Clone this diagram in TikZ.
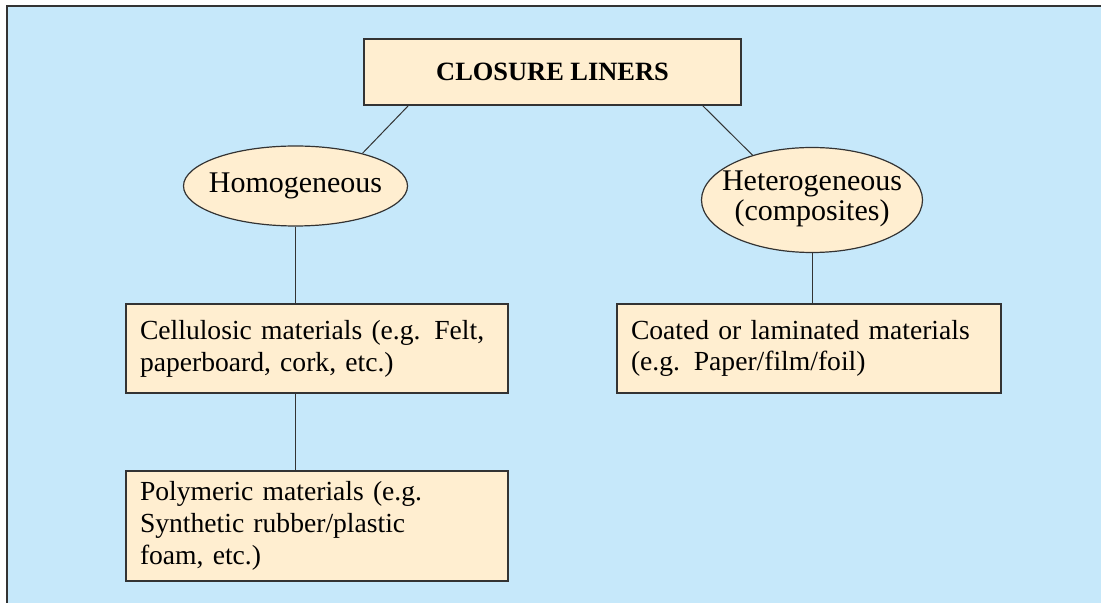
\documentclass[tikz,border=0pt]{standalone}
\usepackage{fontspec}
\setmainfont{Liberation Serif}
\usepackage{tikz}
\usetikzlibrary{shapes.geometric}
\definecolor{panelblue}{HTML}{C6E8FA}
\definecolor{boxcream}{HTML}{FFEED0}
\definecolor{linegray}{HTML}{333333}

\begin{document}
\begin{tikzpicture}[x=0.5pt,y=-0.5pt,
    font=\fontsize{15}{15}\selectfont,
    box/.style={draw=linegray, fill=boxcream, line width=0.6pt, inner sep=0pt},
    textbox/.style={box, font=\fontsize{13.8}{15.9}\selectfont, inner xsep=7pt, text width=177pt, align=left},
    oval/.style={ellipse, draw=linegray, fill=boxcream, line width=0.6pt, inner sep=0pt},
    link/.style={draw=linegray, line width=0.5pt}]
    \useasboundingbox (0,0) rectangle (1101,603);
    \draw[linegray, line width=1pt, fill=panelblue] (7,620) -- (7,6) -- (1120,6) -- (1120,620);

    \node[box, font=\fontsize{13.2}{15}\selectfont\bfseries, minimum width=188.5pt, minimum height=33pt] (title) at (552.5,72) {CLOSURE LINERS};
    \node[oval, minimum width=112pt, minimum height=40pt] (homo) at (295.5,186) {\makebox[0pt]{Homogeneous}};
    \node[oval, minimum width=110.5pt, minimum height=52.5pt] (hetero) at (812,200)
      {\makebox[0pt]{\begin{tabular}{@{}c@{}}Heterogeneous\\(composites)\end{tabular}}};
    \node[textbox, minimum height=44.5pt] (cell) at (317,348.5) {Cellulosic materials (e.g. Felt,\\ paperboard, cork, etc.)};
    \node[textbox, minimum height=55pt] (poly) at (317,526) {Polymeric materials (e.g.\\ Synthetic rubber/plastic\\ foam, etc.)};
    \node[textbox, text width=178pt, minimum height=44.5pt] (coat) at (809,348.5) {Coated or laminated materials\\ (e.g. Paper/film/foil)};

    \path[link] ([xshift=22.5pt]title.south west) -- (homo.26);
    \path[link] ([xshift=-19.5pt]title.south east) -- (hetero.143);
    \path[link] (homo.south) -- (homo.south |- cell.north);
    \path[link] (homo.south |- cell.south) -- (homo.south |- poly.north);
    \path[link] (hetero.south) -- (hetero.south |- coat.north);
\end{tikzpicture}
\end{document}
